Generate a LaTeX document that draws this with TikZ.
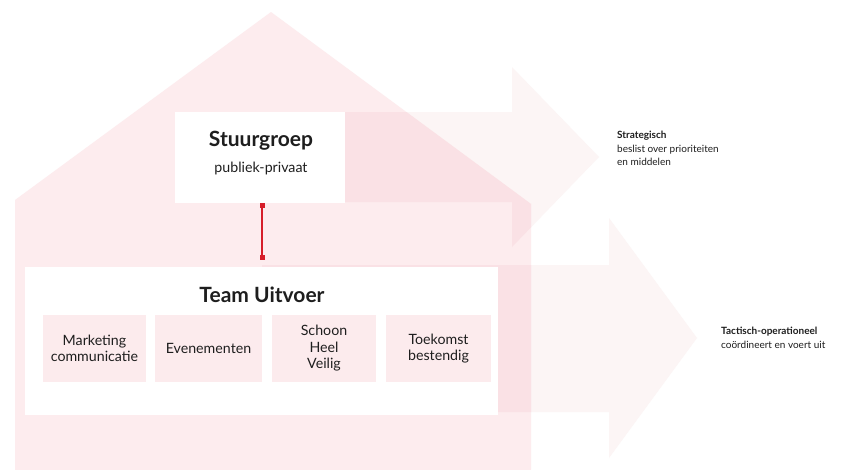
\documentclass[tikz,border=0pt]{standalone}
\usepackage{fontspec}
\setmainfont{Lato}
\usetikzlibrary{arrows.meta}
\definecolor{housefill}{RGB}{253,236,238}
\definecolor{arrowfill}{RGB}{252,245,245}
\definecolor{overlapfill}{RGB}{250,225,229}
\definecolor{subfill}{RGB}{252,235,237}
\definecolor{linkred}{RGB}{214,30,42}
\definecolor{txt}{RGB}{30,30,30}
\tikzset{
  whitebox/.style={fill=white, draw=none, inner sep=0pt},
  subbox/.style={fill=subfill, draw=none, inner sep=0pt, minimum height=67pt, align=center, font=\fontsize{14.2}{16.5}\selectfont, text=txt},
  title/.style={font=\fontsize{21}{24}\selectfont\bfseries, text=txt},
  subtitle/.style={font=\fontsize{14.2}{16}\selectfont, text=txt},
  sidelabel/.style={anchor=north west, align=left, inner sep=0pt, font=\fontsize{10}{13.5}\selectfont, text=txt},
  link/.style={draw=linkred, line width=1.8pt, {Square[length=5pt,width=5pt]}-{Square[length=5pt,width=5pt]}}
}
\begin{document}
\begin{tikzpicture}[x=1pt,y=-1pt]
\useasboundingbox (0,0) rectangle (854,469);
\fill[white] (0,0) rectangle (854,469);
% arrows
\def\arrowone{(262,112) -- (512,112) -- (512,67) -- (599,157) -- (512,247) -- (512,202) -- (262,202) -- cycle}
\def\arrowtwo{(262,265) -- (609,265) -- (609,218) -- (697,338) -- (609,458) -- (609,412) -- (262,412) -- cycle}
\fill[arrowfill] \arrowone;
\fill[arrowfill] \arrowtwo;
% house
\def\house{(15,470) -- (15,200) -- (271,12) -- (531,204) -- (531,470) -- cycle}
\fill[housefill] \house;
\begin{scope}
  \clip \house;
  \fill[overlapfill] \arrowone;
  \fill[overlapfill] \arrowtwo;
\end{scope}
% boxes
\node[whitebox, minimum width=170pt, minimum height=91pt] (sg) at (260,157.5) {};
\node[title] (sgt) at (261,141) {Stuurgroep};
\node[subtitle] (sgs) at (261,168) {publiek-privaat};
\node[whitebox, minimum width=473pt, minimum height=148pt] (tu) at (261.5,341) {};
\node[title] (tut) at (262,295) {Team Uitvoer};
\node[subbox, minimum width=103pt] (s1) at (94.5,348.5) {Marketing\\communicatie};
\node[subbox, minimum width=107pt] (s2) at (208.5,348.5) {Evenementen};
\node[subbox, minimum width=104pt] (s3) at (324,348.5) {Schoon\\Heel\\Veilig};
\node[subbox, minimum width=105pt] (s4) at (438.5,348.5) {Toekomst\\bestendig};
% link
\draw[link, shorten >=7pt] (sg.south -| 262,0) -- (tu.north -| 262,0);
% side labels
\node[sidelabel] (st) at (617,131) {\textbf{Strategisch}\\beslist over prioriteiten\\en middelen};
\node[sidelabel] (to) at (721,327) {\textbf{Tactisch-operationeel}\\coördineert en voert uit};
\end{tikzpicture}
\end{document}
